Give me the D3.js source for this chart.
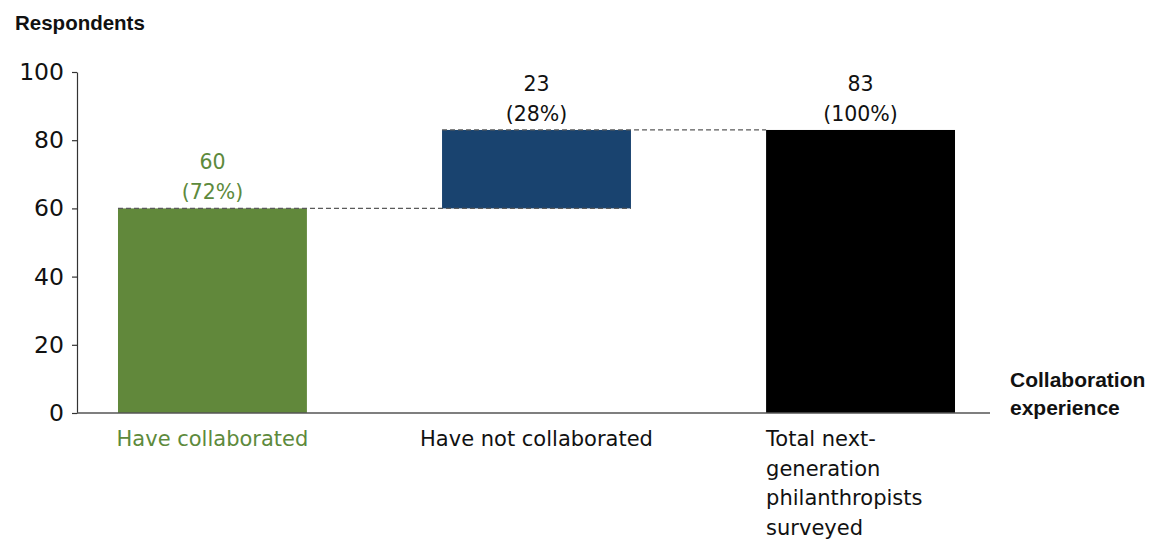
<!DOCTYPE html>
<html>
<head>
<meta charset="utf-8">
<script src="https://cdn.jsdelivr.net/npm/d3@7/dist/d3.min.js"></script>
<style>
  html, body { margin: 0; padding: 0; background: #fff; }
  svg { display: block; }
  text { font-family: "DejaVu Sans", "Liberation Sans", sans-serif; }
  .title { font-family: "Liberation Sans", Arial, sans-serif; font-weight: bold; }
</style>
</head>
<body>
<svg id="chart" width="1154" height="542"></svg>
<script>
// Waterfall: collaboration experience among respondents
const categories = ["Have collaborated", "Have not collaborated", "Total next-generation philanthropists surveyed"];
const labelLines = [["Have collaborated"], ["Have not collaborated"], ["Total next-", "generation", "philanthropists", "surveyed"]];
const values = [60, 23, 83];
const shares = ["72%", "28%", "100%"];
const kinds = ["step", "step", "total"];
const yTicks = [0, 20, 40, 60, 80, 100];
const colors = ["#61883b", "#19436f", "#000000"];
const valueLabelColors = ["#5d8a3c", "#111111", "#111111"];
const axisLabelColors = ["#5d8a3c", "#111111", "#111111"];

// cumulative base for each bar
let running = 0;
const bars = categories.map((c, i) => {
  let y0, y1;
  if (kinds[i] === "total") { y0 = 0; y1 = values[i]; }
  else { y0 = running; y1 = running + values[i]; running = y1; }
  return { cat: c, y0, y1, i };
});

const svg = d3.select("#chart");

const x = d3.scaleBand()
  .domain(categories)
  .range([77, 996])
  .paddingInner(0.417)
  .paddingOuter(0.1265);

const y = d3.scaleLinear().domain([0, 100]).range([413, 72]);

// bars
svg.append("g").selectAll("rect")
  .data(bars).join("rect")
  .attr("x", d => x(d.cat))
  .attr("width", x.bandwidth())
  .attr("y", d => y(d.y1))
  .attr("height", d => y(d.y0) - y(d.y1))
  .attr("fill", d => colors[d.i]);

// dashed connectors between consecutive bars
const conn = svg.append("g")
  .attr("stroke", "#5a5a5a")
  .attr("stroke-width", 1.2)
  .attr("stroke-dasharray", "5,3")
  .attr("fill", "none");
for (let i = 0; i < bars.length - 1; i++) {
  const level = bars[i].y1;
  conn.append("line")
    .attr("x1", x(bars[i].cat))
    .attr("x2", kinds[i + 1] === "total" ? x(bars[i + 1].cat) : x(bars[i + 1].cat) + x.bandwidth())
    .attr("y1", y(level)).attr("y2", y(level));
}

// value labels
const vl = svg.append("g").attr("text-anchor", "middle").attr("font-size", 20.5);
bars.forEach(d => {
  const cx = x(d.cat) + x.bandwidth() / 2;
  const top = y(d.y1);
  vl.append("text").attr("x", cx).attr("y", top - 39)
    .attr("fill", valueLabelColors[d.i]).text(values[d.i]);
  vl.append("text").attr("x", cx).attr("y", top - 9)
    .attr("fill", valueLabelColors[d.i]).text("(" + shares[d.i] + ")");
});

// y axis
const yAxis = svg.append("g")
  .attr("transform", "translate(77,0)")
  .call(d3.axisLeft(y).tickValues(yTicks).tickSize(5).tickSizeOuter(0).tickPadding(8));
yAxis.select(".domain").attr("stroke", "#333").attr("stroke-width", 1.2);
yAxis.selectAll(".tick line").attr("stroke", "#333").attr("stroke-width", 1.2);
yAxis.selectAll(".tick text")
  .attr("font-size", 23.5).attr("fill", "#111")
  .style("font-family", "'DejaVu Sans', 'Liberation Sans', sans-serif");

// x axis baseline
svg.append("line")
  .attr("x1", 77).attr("x2", 990)
  .attr("y1", y(0)).attr("y2", y(0))
  .attr("stroke", "#555").attr("stroke-width", 1.5);

// category labels
const cl = svg.append("g").attr("font-size", 21);
labelLines.forEach((lines, i) => {
  const left = kinds[i] === "total";
  const t = cl.append("text")
    .attr("fill", axisLabelColors[i])
    .attr("text-anchor", left ? "start" : "middle");
  const xPos = left ? x(categories[i]) : x(categories[i]) + x.bandwidth() / 2;
  lines.forEach((ln, k) => {
    t.append("tspan").attr("x", xPos).attr("y", 446 + k * 29.5).text(ln);
  });
});

// axis titles
svg.append("text").attr("class", "title").attr("x", 15).attr("y", 30)
  .attr("font-size", 20.5).attr("fill", "#111")
  .text("Respondents");
const xt = svg.append("text").attr("class", "title").attr("font-size", 21).attr("fill", "#111");
xt.append("tspan").attr("x", 1010).attr("y", 387).text("Collaboration");
xt.append("tspan").attr("x", 1010).attr("y", 415).text("experience");
</script>
</body>
</html>
